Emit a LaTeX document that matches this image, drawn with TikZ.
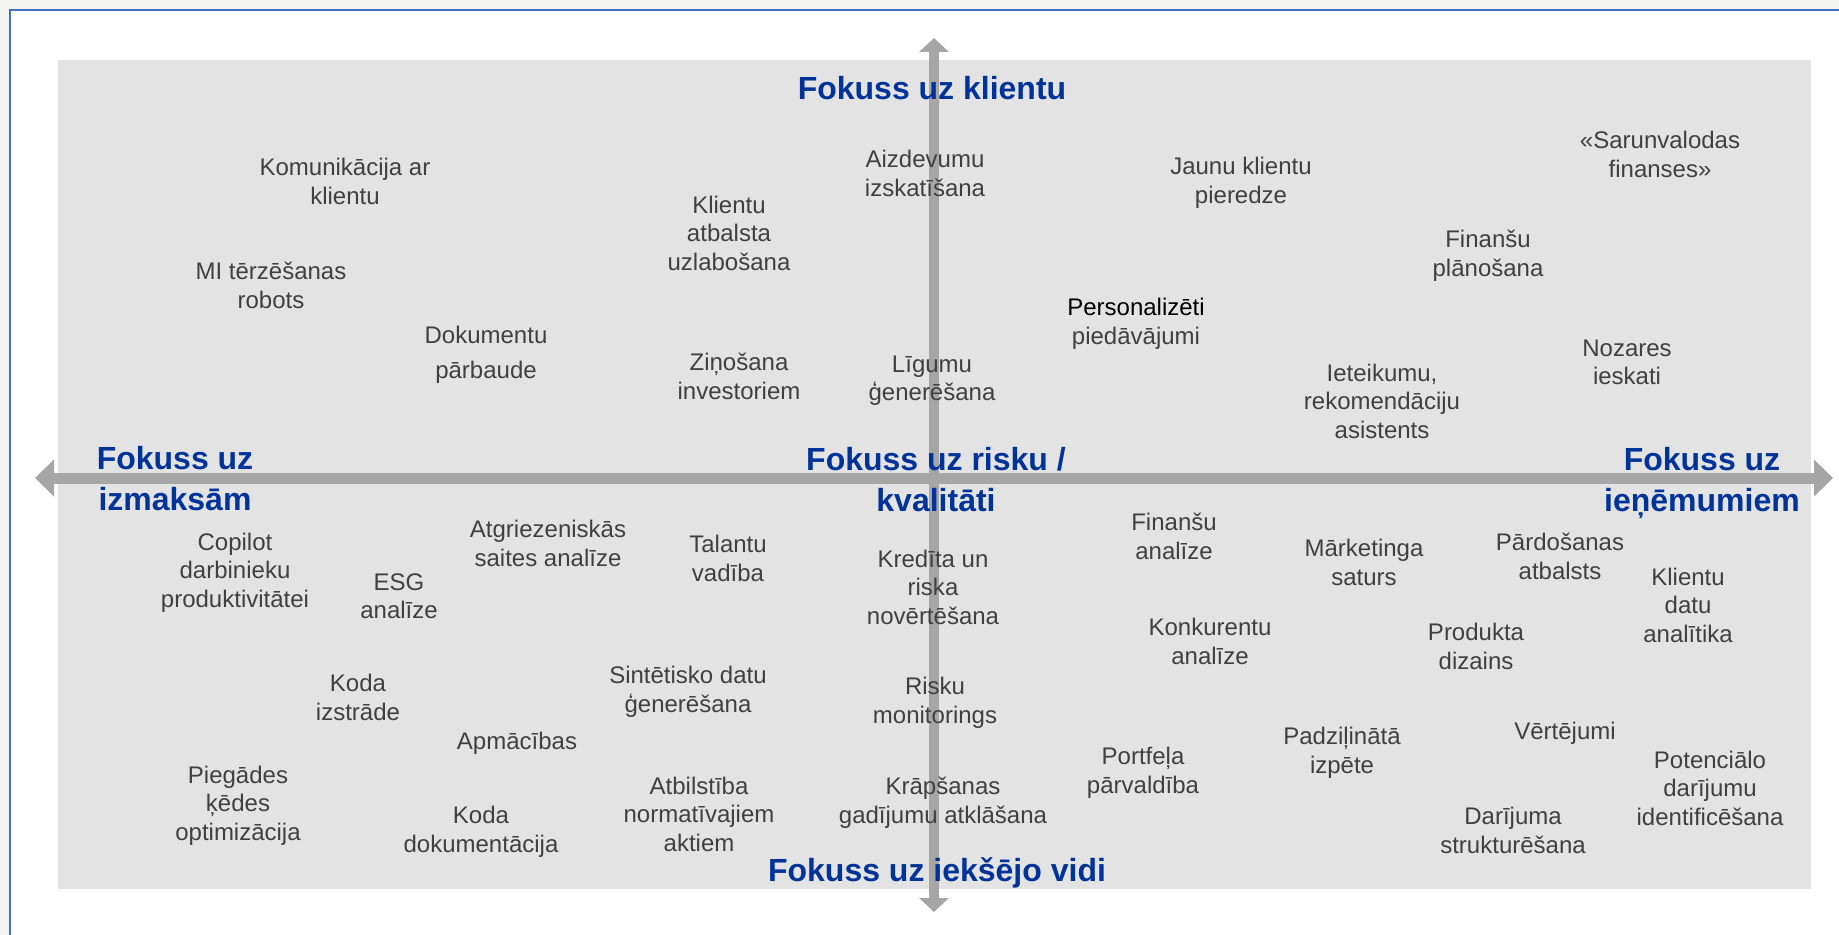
\documentclass[tikz,border=0pt]{standalone}
\usepackage{fontspec}
\setmainfont{Liberation Sans}
\usetikzlibrary{arrows.meta}
\definecolor{bgpanel}{HTML}{E3E3E3}
\definecolor{axisgray}{HTML}{A6A6A6}
\definecolor{itemgray}{HTML}{404040}
\definecolor{titleblue}{HTML}{00339A}
\definecolor{framecol}{HTML}{4472C4}
\definecolor{stripcol}{HTML}{F4F4F2}
\tikzset{
  item/.style={align=center, inner sep=0pt, text=itemgray,
    font=\fontsize{12}{14.4}\selectfont,
    execute at begin node=\strut, execute at end node=\strut},
  multi/.style={item, yshift=-1.25pt},
  itemwide/.style={multi, font=\fontsize{12}{17.5}\selectfont},
  axistitle/.style={align=center, inner sep=0pt, text=titleblue,
    font=\fontsize{16}{20.5}\selectfont\bfseries,
    execute at begin node=\strut, execute at end node=\strut},
  hax/.style={draw=axisgray, line width=5.5pt,
    {Triangle[width=18pt,length=9.5pt]}-{Triangle[width=18pt,length=9.5pt]}},
  vax/.style={draw=axisgray, line width=5pt,
    {Triangle[width=14.5pt,length=7pt]}-{Triangle[width=14.5pt,length=7pt]}}
}
\begin{document}
\begin{tikzpicture}[x=0.5pt,y=-0.5pt]
\useasboundingbox (0,0) rectangle (1839,935);
\fill[white] (0,0) rectangle (1839,935);
\fill[stripcol] (0,0) rectangle (1839,9);
\fill[stripcol] (0,0) rectangle (9,935);
\draw[framecol, line width=1pt] (10,935) -- (10,10) -- (1839,10);
% panel
\fill[bgpanel] (58,60) rectangle (1811,889);
% axes
\coordinate (axL) at (35,478);
\coordinate (axR) at (1833,478);
\coordinate (axT) at (934,38);
\coordinate (axB) at (934,912);
\path[hax] (axL) -- (axR);
\path[vax] (axT) -- (axB);
% axis titles
\node[axistitle] (tTop) at (932,91) {Fokuss uz klientu};
\node[axistitle] (tLeft) at (175,485) {Fokuss uz\\izmaksām};
\node[axistitle] (tCenter) at (936,486) {Fokuss uz risku /\\kvalitāti};
\node[axistitle] (tRight) at (1702,486) {Fokuss uz\\ieņēmumiem};
\node[axistitle] (tBottom) at (937,873) {Fokuss uz iekšējo vidi};
% top-left
\node[multi] (komunikacija) at (345,183) {Komunikācija ar\\klientu};
\node[multi] (mi) at (271,287) {MI tērzēšanas\\robots};
\node[itemwide] (dokumentu) at (486,355) {Dokumentu\\pārbaude};
\node[multi] (klientuAtb) at (729,235) {Klientu\\atbalsta\\uzlabošana};
\node[multi] (zinosana) at (739,378) {Ziņošana\\investoriem};
\node[multi] (aizdevumu) at (925,175) {Aizdevumu\\izskatīšana};
\node[multi] (ligumu) at (932,380) {Līgumu\\ģenerēšana};
% top-right
\node[multi] (jaunu) at (1241,182) {Jaunu klientu\\pieredze};
\node[multi] (sarunval) at (1660,156) {«Sarunvalodas\\finanses»};
\node[multi] (finPlan) at (1488,255) {Finanšu\\plānošana};
\node[multi] (personal) at (1136,323) {{\color{black}Personalizēti}\\piedāvājumi};
\node[multi] (ieteik) at (1382,403) {Ieteikumu,\\rekomendāciju\\asistents};
\node[multi] (nozares) at (1627,364) {Nozares\\ieskati};
% bottom-left
\node[multi] (copilot) at (235,572) {Copilot\\darbinieku\\produktivitātei};
\node[multi] (esg) at (399,598) {ESG\\analīze};
\node[multi] (atgriez) at (548,545) {Atgriezeniskās\\saites analīze};
\node[multi] (talantu) at (728,560) {Talantu\\vadība};
\node[multi] (kredita) at (933,589) {Kredīta un\\riska\\novērtēšana};
\node[multi] (kodaIzstr) at (358,699) {Koda\\izstrāde};
\node[multi] (sintet) at (688,691) {Sintētisko datu\\ģenerēšana};
\node[item] (apmac) at (517,744) {Apmācības};
\node[multi] (risku) at (935,702) {Risku\\monitorings};
\node[multi] (piegades) at (238,805) {Piegādes\\ķēdes\\optimizācija};
\node[multi] (kodaDok) at (481,831) {Koda\\dokumentācija};
\node[multi] (atbilst) at (699,816) {Atbilstība\\normatīvajiem\\aktiem};
\node[multi] (krapsanas) at (943,802) {Krāpšanas\\gadījumu atklāšana};
% bottom-right
\node[multi] (finAnal) at (1174,538) {Finanšu\\analīze};
\node[multi] (marketing) at (1364,564) {Mārketinga\\saturs};
\node[multi] (pardos) at (1560,558) {Pārdošanas\\atbalsts};
\node[multi] (klDatu) at (1688,607) {Klientu\\datu\\analītika};
\node[multi] (konkur) at (1210,643) {Konkurentu\\analīze};
\node[multi] (produkta) at (1476,648) {Produkta\\dizains};
\node[multi] (portfela) at (1143,772) {Portfeļa\\pārvaldība};
\node[multi] (padzil) at (1342,752) {Padziļinātā\\izpēte};
\node[item] (vertejumi) at (1565,734) {Vērtējumi};
\node[multi] (potenc) at (1710,790) {Potenciālo\\darījumu\\identificēšana};
\node[multi] (darijuma) at (1513,832) {Darījuma\\strukturēšana};
\end{tikzpicture}
\end{document}
